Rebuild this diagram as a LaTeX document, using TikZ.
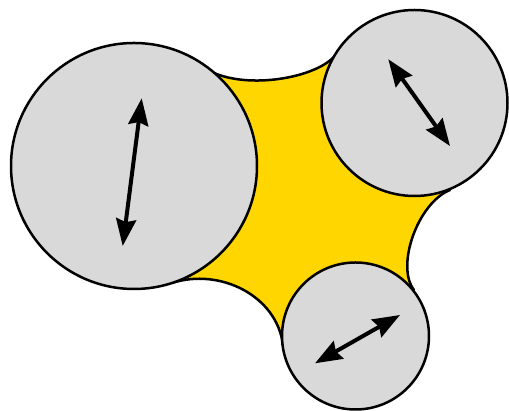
\documentclass[tikz,border=0pt]{standalone}
\usetikzlibrary{arrows.meta}
\definecolor{gold}{RGB}{255,214,0}
\definecolor{lgray}{RGB}{217,217,217}
\begin{document}
\begin{tikzpicture}[x=1pt,y=1pt,
  ball/.style={draw=black, line width=2.5pt, fill=lgray},
  web/.style={draw=black, line width=2.5pt, fill=gold, line join=round},
  dbl/.style={line width=4pt, {Stealth[length=27pt,width=20pt,inset=3pt]}-{Stealth[length=27pt,width=20pt,inset=3pt]}}]
\useasboundingbox (0,0) rectangle (509,411);
\coordinate (C1) at (134,245);
\coordinate (C2) at (414.5,308);
\coordinate (C3) at (355.5,75);
\coordinate (T12a) at (203,344);
\coordinate (T12b) at (337,358);
\coordinate (T23a) at (450,221);
\coordinate (T23b) at (414,121);
\coordinate (T13b) at (283,66);
\coordinate (T13a) at (172,128);
\draw[web] (T12a) .. controls (239.9,318.3) and (320.8,332.7) .. (T12b) -- (C2) -- (T23a)
  .. controls (417.5,207.9) and (395.5,144.6) .. (T23b) -- (C3) -- (T13b)
  .. controls (276.8,115.6) and (219.6,143.4) .. (T13a) -- (C1) -- cycle;
\draw[ball] (C1) circle[radius=123];
\draw[ball] (C2) circle[radius=93];
\draw[ball] (C3) circle[radius=73.5];
\coordinate (A1s) at (141.7,312.7);
\coordinate (A1e) at (122.7,165);
\coordinate (A2s) at (388.3,351.7);
\coordinate (A2e) at (450,265);
\coordinate (A3s) at (315,47.7);
\coordinate (A3e) at (400,96);
\draw[dbl] (A1s) -- (A1e);
\draw[dbl] (A2s) -- (A2e);
\draw[dbl] (A3s) -- (A3e);
\end{tikzpicture}
\end{document}
